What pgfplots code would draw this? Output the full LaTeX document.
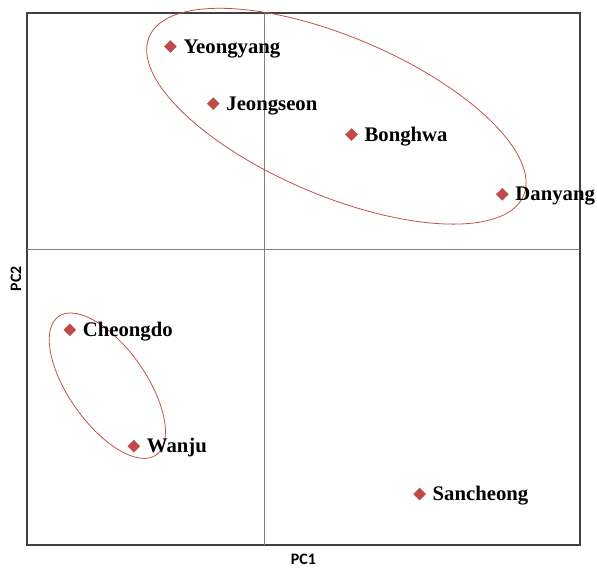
\documentclass[border=0pt]{standalone}
\usepackage{pgfplots}
\pgfplotsset{compat=1.18}
\usepackage{fontspec}
\setmainfont{Liberation Serif}
\newfontfamily\labelfont{Carlito}
\definecolor{mk}{HTML}{BE4B48}
\definecolor{ell}{HTML}{C0504D}
\begin{document}
\begin{tikzpicture}
\begin{axis}[
  scale only axis, width=555pt, height=533.7pt,
  xmin=-2.387, xmax=3.163, ymin=-2.96, ymax=2.377,
  xtick=\empty, ytick=\empty,
  extra x ticks={0}, extra y ticks={0},
  extra x tick labels={}, extra y tick labels={},
  extra tick style={grid=major, major tick length=0pt},
  major grid style={draw=black!50, line width=1pt},
  axis line style={draw=black!75, line width=1.8pt},
  clip=false,
]
\addplot[only marks, mark=square*, mark size=4.3pt,
  mark options={rotate=45, fill=mk, draw=mk, line width=0.3pt},
  nodes near coords, point meta=explicit symbolic,
  nodes near coords style={anchor=base west, inner sep=0pt, xshift=13pt, yshift=-6.6pt,
    font=\fontsize{20.8}{23}\selectfont\bfseries, text=black}]
table[meta=label] {
x y label
-0.947 2.040 Yeongyang
-0.517 1.467 Jeongseon
0.870 1.157 Bonghwa
2.383 0.557 Danyang
-1.957 -0.803 Cheongdo
-1.314 -1.970 Wanju
1.553 -2.450 Sancheong
};
\draw[ell, line width=0.8pt] (axis cs:0.718,1.341) ellipse [x radius=204pt, y radius=79.6pt, rotate=-23];
\draw[ell, line width=0.8pt] (axis cs:-1.58,-1.363) ellipse [x radius=85pt, y radius=38.7pt, rotate=-54.8];
\end{axis}
\node[font=\labelfont\bfseries\fontsize{16}{18}\selectfont] at ([yshift=-14pt]current axis.south) {PC1};
\node[rotate=90, font=\labelfont\bfseries\fontsize{16}{18}\selectfont] at ([xshift=-11pt]current axis.west) {PC2};
\pgfresetboundingbox
\path ([shift={(-27pt,-22.3pt)}]current axis.south west) rectangle ([shift={(17pt,13pt)}]current axis.north east);
\end{tikzpicture}
\end{document}
